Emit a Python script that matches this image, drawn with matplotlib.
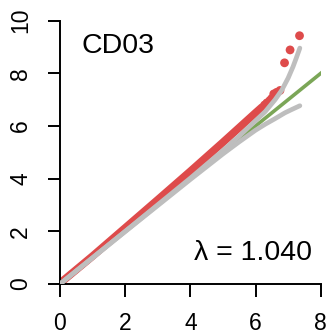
import matplotlib
matplotlib.use("Agg")
import matplotlib.pyplot as plt

plt.rcParams['font.family'] = ['Liberation Sans', 'DejaVu Sans']

# expected vs observed -log10(p), dense part
obs_x = [0.0, 1.0, 2.0, 3.0, 4.0, 5.0, 5.5, 6.0, 6.2]
obs_y = [0.03, 1.06, 2.13, 3.20, 4.28, 5.38, 5.94, 6.50, 6.72]
# sparse tail points
tail_x = [6.28, 6.35, 6.44, 6.50, 6.56, 6.65, 6.75, 6.89, 7.06, 7.35]
tail_y = [6.80, 6.88, 6.97, 7.05, 7.22, 7.28, 7.35, 8.40, 8.89, 9.43]
# confidence band
up_x = [0.0, 2.0, 4.0, 5.0, 5.5, 6.0, 6.3, 6.6, 6.8, 7.0, 7.15, 7.25, 7.36]
up_y = [0.0, 2.0, 4.02, 5.07, 5.62, 6.20, 6.55, 7.00, 7.35, 7.82, 8.25, 8.58, 8.96]
lo_x = [0.0, 2.0, 4.0, 5.0, 5.5, 6.0, 6.3, 6.6, 6.9, 7.1, 7.36]
lo_y = [0.0, 1.99, 3.97, 4.94, 5.40, 5.84, 6.07, 6.28, 6.50, 6.62, 6.77]
diag = [0, 8]
xticks = [0, 2, 4, 6, 8]
yticks = [0, 2, 4, 6, 8, 10]
title = "CD03"
lam_text = "λ = 1.040"

red = "#DE4B4B"
gray = "#BEBEBE"
green = "#7BA657"

fig = plt.figure(figsize=(3.28, 3.34), dpi=100)
ax = fig.add_axes([60/328, 50/334, 260.7/328, 263.3/334])

ax.plot(obs_x, obs_y, color=red, lw=5.6, solid_capstyle='round', zorder=2)
ax.scatter(tail_x, tail_y, s=40, color=red, edgecolors='none', zorder=2)
ax.plot(diag, diag, color=green, lw=2.6, zorder=3)
ax.plot(up_x, up_y, color=gray, lw=3.4, solid_capstyle='round', zorder=4)
ax.plot(lo_x, lo_y, color=gray, lw=3.4, solid_capstyle='round', zorder=4)

ax.set_xlim(0, 8)
ax.set_ylim(0, 10)
ax.set_xticks(xticks)
ax.set_yticks(yticks)
ax.set_xticklabels([str(v) for v in xticks])
ax.set_yticklabels([str(v) for v in yticks], rotation=90, va='center')
for s in ['top', 'right']:
    ax.spines[s].set_visible(False)
for s in ['left', 'bottom']:
    ax.spines[s].set_linewidth(1.4)
ax.tick_params(length=9, width=1.4, labelsize=16.5, pad=11)

ax.text(81.7/328, (334-53.3)/334, title, transform=fig.transFigure,
        fontsize=20.5, ha='left', va='baseline')
ax.text(311.7/328, (334-260.3)/334, lam_text, transform=fig.transFigure,
        fontsize=20.5, ha='right', va='baseline')

fig.savefig("out.png", dpi=100)
